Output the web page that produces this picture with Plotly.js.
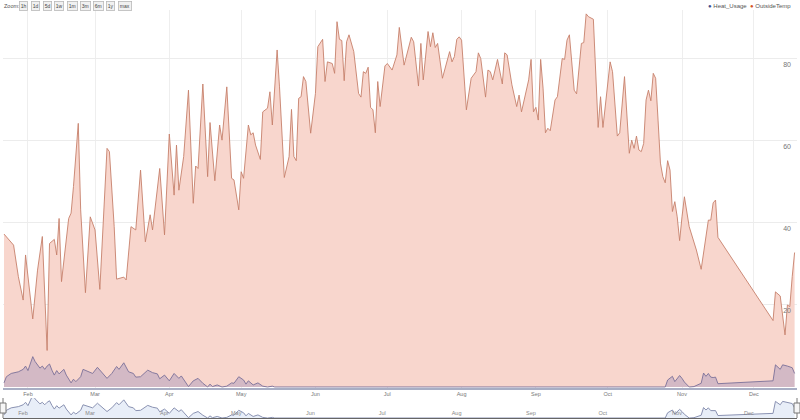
<!DOCTYPE html>
<html>
<head>
<meta charset="utf-8">
<script src="https://cdn.plot.ly/plotly-3.0.1.min.js"></script>
<style>html,body{margin:0;padding:0;background:#fff;}#chart{width:800px;height:420px;}</style>
</head>
<body>
<div id="chart"></div>
<script>
// ---- data (day of year, 2013) ----
const YEAR = 2013;
const seriesNames = ['Heat_Usage', 'OutsideTemp'];

const tempDay = [22,26,28,30,31,34,36,38,40,41,43,44,45,46,49,50,51,53,54,56,58,60,62,65,66,68,69,72,73,75,77,79,81,83,84,87,89,
  91,93,94,95,97,99,101,102,103,105,107,108,110,112,113,115,117,118,120,121,122,124,125,126,127,129,130,132,133,134,136,137,139,
  141,142,143,144,145,146,147,148,150,152,153,155,156,157,159,160,161,162,163,164,165,166,168,170,171,172,173,174,175,176,177,178,179,
  181,182,183,184,186,187,189,190,192,193,195,196,197,199,200,201,202,203,205,208,209,210,211,212,213,215,217,219,220,221,
  223,224,225,226,228,230,231,232,234,236,237,238,239,241,242,243,244,245,246,247,248,249,250,252,253,255,256,257,258,260,261,
  263,264,265,266,268,270,271,272,273,275,276,278,279,281,283,284,285,286,287,288,289,290,291,292,293,294,295,296,297,298,299,300,
  301,302,303,304,305,306,308,311,313,316,317,318,319,320,343,344,346,348,349,350,351,352];
const tempValue = [37.3,34.6,26.9,21.2,32.2,16.6,28.5,36.7,8.9,35,36,32.2,41.1,25.7,41.1,42.4,48.9,64.3,43.2,23,41.5,38.3,23.8,58.2,57.4,39.1,26.3,26.8,26.1,39.1,38.3,52.9,35.4,42,38.3,53.3,37.1,
  61.7,46.8,59,48,56.2,72.4,44.8,53.9,53.3,73.9,51.3,64.5,50.3,63.9,60.2,73.2,50.9,50.5,43.2,52.5,50.9,63.9,61.5,62,59,55.5,67.1,68,72,63.9,82.2,73.2,51.1,
  56.2,67.7,56.2,55.2,70.4,70.8,75.7,74.5,61.9,71.6,83,84.8,74.5,79.3,78.9,76.5,89.1,84.8,84.5,74.7,84.2,85.9,81.8,71.6,70.7,76.9,76.5,78,68.2,67.6,62,74.5,68.4,
  78.3,78.9,78,77.3,81,87.7,78.5,81,85.3,84.2,73.4,83.8,74.9,86.7,83,86.4,82.8,83.8,75.3,81.8,79.3,80.6,84.8,85.4,84.6,67.6,75.3,76.9,81.5,80.1,
  70.7,77.3,76.9,74.9,79.9,73.9,81.5,81,73.7,68.4,71.2,67.1,70,74.9,79.9,67.1,68.2,65.1,79.9,72.9,62,63.1,62.5,70,70.8,80.1,79.9,84.6,85.9,72.4,71.5,
  83.8,84,91,90.3,89.7,63.3,70.8,63.3,68.4,79.3,76.9,61.2,62,75.7,57,60.2,58.2,61.2,57.8,57.4,59.4,70,72.4,69.8,76.5,75.3,65.1,54.6,51.3,49.8,55.2,52.9,
  42.8,45.2,41.5,35.7,41.5,46.4,39.1,33.4,28.7,40.7,40.7,44.9,45.6,36.5,16.2,23.2,22.2,12.7,20,19.6,26.9,32.8];

const heatDay = [22,23,25,28,30,31,32,34,35,37,38,39,40,41,42,43,44,45,47,48,50,51,52,54,55,57,59,61,63,65,67,69,70,72,74,76,77,79,82,84,86,87,89,
  91,93,95,96,97,99,101,103,105,107,108,109,111,113,115,117,118,120,122,123,124,126,128,130,132,134,135,
  298,299,301,302,304,305,306,308,310,313,314,315,316,317,318,319,320,343,344,346,347,349,351,352];
const heatValue = [1.0,2.5,3.3,3.7,4.3,5.1,4.0,7.4,6.2,4.6,5.1,4.3,5.1,5.6,4.1,2.9,4.0,3.2,4.3,2.9,1.0,1.9,1.3,2.5,4.3,3.7,3.3,4.8,3.3,2.1,3.3,5.0,4.3,5.9,3.7,3.3,2.4,2.5,4.1,3.5,3.2,2.0,2.9,
  1.5,3.3,2.1,2.7,1.9,0.1,1.5,2.1,0.9,0,0.7,0.1,0.5,0,0.2,1.0,0.9,2.5,1.7,0.7,1.5,0.5,1.0,0.2,0,0.2,0,
  0,1.7,2.6,1.3,2.8,2.1,1.2,0,0.1,0.9,3.4,2.6,3.3,2.4,2.3,2.4,0.8,1.5,5.4,4.3,5.4,5.1,4.7,3.3];

const monthTicks = ['2013-02-01','2013-03-01','2013-04-01','2013-05-01','2013-06-01','2013-07-01','2013-08-01','2013-09-01','2013-10-01','2013-11-01','2013-12-01'];
const monthLabels = ['Feb','Mar','Apr','May','Jun','Jul','Aug','Sep','Oct','Nov','Dec'];
const yTicks = [20, 40, 60, 80];
const zoomLabels = ['1h','1d','5d','1w','1m','3m','6m','1y','max'];

// ---- helpers ----
function dayToDate(d) {
  return new Date(Date.UTC(YEAR, 0, d)).toISOString().slice(0, 10);
}
const tempDates = tempDay.map(dayToDate);
const heatDates = heatDay.map(dayToDate);

const FONT = 'Arial, "Liberation Sans", sans-serif';
const W = 800, H = 420, ML = 3, MR = 3, MT = 10, MB = 2;
const PW = W - ML - MR, PH = H - MT - MB;
const xRange = ['2013-01-21 14:00', '2013-12-19 00:00'];

const mainBottomPx = 388, sliderTopPx = 398;
const mainDomain = [(H - MB - mainBottomPx) / PH, 1];
const sliderDomain = [0, (H - MB - sliderTopPx) / PH];

const colHeatDot = '#3c4d8e', colTempDot = '#d5551f';

const traces = [
  {
    name: seriesNames[1], x: tempDates, y: tempValue, xaxis: 'x', yaxis: 'y',
    type: 'scatter', mode: 'lines', fill: 'tozeroy',
    line: {color: '#c6806b', width: 0.9}, fillcolor: '#f8d6cd', showlegend: false, hoverinfo: 'skip'
  },
  {
    name: seriesNames[0], x: heatDates, y: heatValue, xaxis: 'x', yaxis: 'y',
    type: 'scatter', mode: 'lines', fill: 'tozeroy',
    line: {color: '#7a7199', width: 0.9}, fillcolor: 'rgba(80,80,170,0.22)', showlegend: false, hoverinfo: 'skip'
  },
  {
    name: seriesNames[0] + ' (range)', x: heatDates, y: heatValue, xaxis: 'x2', yaxis: 'y2',
    type: 'scatter', mode: 'lines', fill: 'tozeroy',
    line: {color: '#8a92b2', width: 1}, fillcolor: '#e8eef8', showlegend: false, hoverinfo: 'skip'
  }
];

// text-width measurement for the zoom buttons
const cv = document.createElement('canvas').getContext('2d');
function textW(t, size) { cv.font = size + 'px Arial, "Liberation Sans"'; return cv.measureText(t).width; }
const pxX = px => (px - ML) / PW;
const pxY = py => (H - MB - py) / PH;

const annotations = [];
annotations.push({
  xref: 'paper', yref: 'paper', x: pxX(2), y: pxY(6), xanchor: 'left', yanchor: 'middle',
  text: 'Zoom:', showarrow: false, font: {family: FONT, size: 5.5, color: '#555'}
});
let bx = 19;
const btnFont = 5;
zoomLabels.forEach(lbl => {
  annotations.push({
    xref: 'paper', yref: 'paper', x: pxX(bx), y: pxY(6), xanchor: 'left', yanchor: 'middle',
    text: lbl, showarrow: false, font: {family: FONT, size: btnFont, color: '#444'},
    bgcolor: '#f1f1f1', bordercolor: '#b9b9b9', borderwidth: 0.8, borderpad: 1
  });
  bx += textW(lbl, btnFont) + 4 + 2.2;
});
annotations.push({
  xref: 'paper', yref: 'paper', x: 1, y: pxY(5.5), xanchor: 'right', yanchor: 'middle', xshift: -4,
  text: '<span style="color:' + colHeatDot + '">●</span> ' + seriesNames[0] +
        '  <span style="color:' + colTempDot + '">●</span> ' + seriesNames[1],
  showarrow: false, font: {family: FONT, size: 6, color: '#555'}
});

// range-selector handles (decoration)
const sMid = (sliderDomain[0] + sliderDomain[1]) / 2;
const hh = 5 / PH, hw = 3 / PW;
const shapes = [];
[0, 1].forEach(px => {
  shapes.push({type: 'line', xref: 'paper', yref: 'paper', x0: px, x1: px, y0: sliderDomain[0], y1: sliderDomain[1],
    line: {color: '#777', width: 1}});
  shapes.push({type: 'rect', xref: 'paper', yref: 'paper', x0: px - hw, x1: px + hw, y0: sMid - hh, y1: sMid + hh,
    fillcolor: '#f6f6f6', line: {color: '#777', width: 1}});
});

const layout = {
  width: W, height: H,
  margin: {l: ML, r: MR, t: MT, b: MB, pad: 0},
  paper_bgcolor: '#fff', plot_bgcolor: '#fff',
  showlegend: false,
  font: {family: FONT, color: '#666'},
  xaxis: {
    domain: [0, 1], anchor: 'y', type: 'date', range: xRange,
    tickvals: monthTicks, ticktext: monthLabels, ticks: '',
    tickfont: {family: FONT, size: 5.5, color: '#777'},
    showgrid: true, gridcolor: '#eeeeee', gridwidth: 1,
    showline: true, linecolor: '#a8aec4', linewidth: 1.5, zeroline: false, fixedrange: true
  },
  yaxis: {
    domain: mainDomain, anchor: 'x', range: [-0.25, 91.95], side: 'right',
    tickvals: yTicks, ticks: '', ticklabelposition: 'inside', ticklabelshift: 6, ticklabelstandoff: 3,
    tickfont: {family: FONT, size: 7, color: '#777'},
    showgrid: true, gridcolor: '#ececec', gridwidth: 1, zeroline: false, showline: false, fixedrange: true
  },
  xaxis2: {
    domain: [0, 1], anchor: 'y2', type: 'date', range: xRange,
    tickvals: monthTicks, ticktext: monthLabels, ticks: '',
    ticklabelposition: 'inside', ticklabelshift: -5, ticklabelstandoff: 0,
    tickfont: {family: FONT, size: 5.5, color: '#888'},
    showgrid: false, showline: true, linecolor: '#666', linewidth: 1.2, zeroline: false, fixedrange: true
  },
  yaxis2: {
    domain: sliderDomain, anchor: 'x2', range: [0, 6.5],
    visible: false, showgrid: false, zeroline: false, fixedrange: true
  },
  annotations: annotations,
  shapes: shapes
};

Plotly.newPlot('chart', traces, layout, {displayModeBar: false, staticPlot: true});
</script>
</body>
</html>
